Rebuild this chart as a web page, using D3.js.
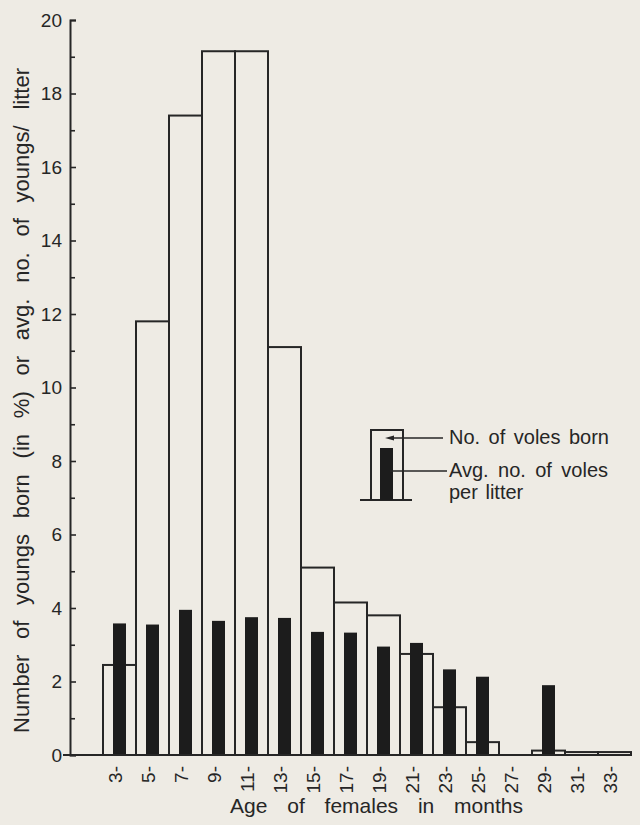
<!DOCTYPE html>
<html>
<head>
<meta charset="utf-8">
<script src="https://cdn.jsdelivr.net/npm/d3@7"></script>
<style>
  html, body { margin: 0; padding: 0; background: #eeebe4; }
  svg { display: block; }
  text { font-family: "Liberation Sans", Arial, sans-serif; fill: #262626; }
</style>
</head>
<body>
<svg id="chart" width="640" height="825"></svg>
<script>
// Age classes of females (months) — each class spans two months
const ageLabels = ["3-", "5-", "7-", "9-", "11-", "13-", "15-", "17-", "19-", "21-", "23-", "25-", "27-", "29-", "31-", "33-"];
const ageStart  = [3, 5, 7, 9, 11, 13, 15, 17, 19, 21, 23, 25, 27, 29, 31, 33];
// Number of voles born (in %) per age class of mother
const bornPct   = [2.45, 11.8, 17.4, 19.15, 19.15, 11.1, 5.1, 4.15, 3.8, 2.75, 1.3, 0.35, 0, 0.12, 0.08, 0.08];
// Average number of young per litter (null = no litters)
const perLitter = [3.58, 3.55, 3.95, 3.65, 3.75, 3.73, 3.35, 3.33, 2.95, 3.05, 2.33, 2.13, null, 1.9, null, null];
// Y axis ticks
const yMajor = [0, 2, 4, 6, 8, 10, 12, 14, 16, 18, 20];
const yMinor = [1, 3, 5, 7, 9, 11, 13, 15, 17, 19];

const ink = "#262626";
const svg = d3.select("#chart");

const x = d3.scaleLinear().domain([3, 35]).range([103, 631]);
const y = d3.scaleLinear().domain([0, 20]).range([755, 20]);
const axisX = 70;
const darkW = 13;

// open bars: voles born
const open = svg.append("g");
ageStart.forEach((a, i) => {
  if (!bornPct[i]) return;
  open.append("rect")
    .attr("x", x(a)).attr("y", y(bornPct[i]))
    .attr("width", x(a + 2) - x(a)).attr("height", y(0) - y(bornPct[i]))
    .attr("fill", "none").attr("stroke", ink).attr("stroke-width", 2);
});

// dark bars: average litter size
const dark = svg.append("g");
ageStart.forEach((a, i) => {
  if (perLitter[i] == null) return;
  dark.append("rect")
    .attr("x", x(a + 1) - darkW / 2).attr("y", y(perLitter[i]))
    .attr("width", darkW).attr("height", y(0) - y(perLitter[i]))
    .attr("fill", "#1c1c1c");
});

// baseline
svg.append("line")
  .attr("x1", axisX - 7).attr("x2", x(35))
  .attr("y1", y(0)).attr("y2", y(0))
  .attr("stroke", ink).attr("stroke-width", 2);

// y axis with inward ticks
const gy = svg.append("g").attr("transform", `translate(${axisX},0)`)
  .call(d3.axisLeft(y).tickValues(yMajor).tickFormat(d3.format("d"))
    .tickSizeInner(-6).tickSizeOuter(-6).tickPadding(8));
gy.select(".domain").attr("stroke", ink).attr("stroke-width", 2);
gy.selectAll(".tick line").attr("stroke", ink).attr("stroke-width", 1.6);
gy.selectAll(".tick text").attr("font-size", 19).attr("font-family", "Liberation Sans, Arial, sans-serif").attr("fill", ink);

const gyMinor = svg.append("g").attr("transform", `translate(${axisX},0)`)
  .call(d3.axisLeft(y).tickValues(yMinor).tickFormat("").tickSize(-5));
gyMinor.select(".domain").remove();
gyMinor.selectAll(".tick line").attr("stroke", ink).attr("stroke-width", 1.6);

// x tick labels (rotated)
svg.append("g").selectAll("text").data(ageLabels).join("text")
  .attr("transform", (d, i) => `translate(${x(ageStart[i] + 1) - 4},766) rotate(-90)`)
  .attr("text-anchor", "end")
  .attr("dominant-baseline", "central")
  .attr("font-size", 19)
  .text(d => d);

// stretch the word gaps of a text so it spans a given length
function fitWords(sel, target) {
  const node = sel.node();
  const natural = node.getComputedTextLength();
  const gaps = (sel.text().match(/ /g) || []).length;
  if (gaps) sel.attr("word-spacing", Math.max(0, (target - natural) / gaps));
}

// axis titles
const xt = svg.append("text")
  .attr("x", 230).attr("y", 813)
  .attr("font-size", 21)
  .text("Age of females in months");
fitWords(xt, 293);

const yt = svg.append("text")
  .attr("transform", "translate(29,733) rotate(-90)")
  .attr("font-size", 22)
  .text("Number of youngs born (in %) or avg. no. of youngs/ litter");
fitWords(yt, 665);

// legend
const lg = svg.append("g");
lg.append("line").attr("x1", 360).attr("x2", 412).attr("y1", 500).attr("y2", 500)
  .attr("stroke", ink).attr("stroke-width", 2);
lg.append("path").attr("d", "M371,500 V430 H403 V500")
  .attr("fill", "none").attr("stroke", ink).attr("stroke-width", 2);
lg.append("rect").attr("x", 380).attr("y", 448).attr("width", 13).attr("height", 52)
  .attr("fill", "#1c1c1c");
lg.append("line").attr("x1", 443).attr("x2", 392).attr("y1", 438).attr("y2", 438)
  .attr("stroke", ink).attr("stroke-width", 1.4);
lg.append("path").attr("d", "M385,438 L394,435.5 L394,440.5 Z").attr("fill", ink);
lg.append("line").attr("x1", 390).attr("x2", 447).attr("y1", 471).attr("y2", 471)
  .attr("stroke", ink).attr("stroke-width", 1.4);
const l1 = lg.append("text").attr("x", 449).attr("y", 444).attr("font-size", 20).text("No. of voles born");
fitWords(l1, 160);
const l2 = lg.append("text").attr("x", 449).attr("y", 477).attr("font-size", 20).text("Avg. no. of voles");
fitWords(l2, 159);
lg.append("text").attr("x", 449).attr("y", 499).attr("font-size", 20).attr("word-spacing", 2).text("per litter");
</script>
</body>
</html>
